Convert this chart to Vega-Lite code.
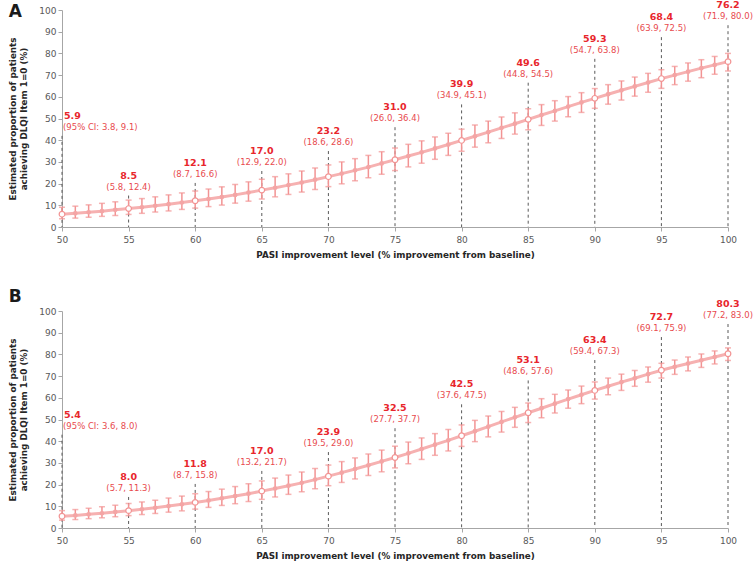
{
  "$schema": "https://vega.github.io/schema/vega-lite/v6.json",
  "padding": {"left": 8, "top": 0, "right": 4, "bottom": 2},
  "config": {
    "font": "DejaVu Sans",
    "view": {"stroke": null},
    "axis": {"labelColor": "#595959", "labelFontSize": 9, "domainColor": "#a6a6a6", "tickColor": "#a6a6a6", "tickSize": 4, "grid": false, "titleColor": "#262626", "titleFontWeight": "bold", "titleFontSize": 8.8, "labelFlush": false},
    "axisX": {"labelPadding": 4, "titlePadding": 6},
    "axisY": {"titlePadding": 10, "titleLineHeight": 11}
  },
  "datasets": {
    "A": [
      {"x":50,"est":5.9,"lo":3.8,"hi":9.1},{"x":51,"est":6.3,"lo":4.1,"hi":9.6},{"x":52,"est":6.8,"lo":4.5,"hi":10.2},{"x":53,"est":7.3,"lo":4.9,"hi":10.9},{"x":54,"est":7.9,"lo":5.3,"hi":11.6},
      {"x":55,"est":8.5,"lo":5.8,"hi":12.4},{"x":56,"est":9.1,"lo":6.3,"hi":13.1},{"x":57,"est":9.8,"lo":6.9,"hi":13.9},{"x":58,"est":10.5,"lo":7.4,"hi":14.8},{"x":59,"est":11.3,"lo":8.1,"hi":15.7},
      {"x":60,"est":12.1,"lo":8.7,"hi":16.6},{"x":61,"est":12.9,"lo":9.4,"hi":17.5},{"x":62,"est":13.8,"lo":10.1,"hi":18.5},{"x":63,"est":14.8,"lo":11.0,"hi":19.6},{"x":64,"est":15.9,"lo":11.9,"hi":20.8},
      {"x":65,"est":17.0,"lo":12.9,"hi":22.0},{"x":66,"est":18.1,"lo":13.9,"hi":23.2},{"x":67,"est":19.3,"lo":15.0,"hi":24.5},{"x":68,"est":20.5,"lo":16.1,"hi":25.8},{"x":69,"est":21.8,"lo":17.3,"hi":27.2},
      {"x":70,"est":23.2,"lo":18.6,"hi":28.6},{"x":71,"est":24.6,"lo":19.9,"hi":30.0},{"x":72,"est":26.1,"lo":21.3,"hi":31.5},{"x":73,"est":27.6,"lo":22.7,"hi":33.0},{"x":74,"est":29.3,"lo":24.3,"hi":34.7},
      {"x":75,"est":31.0,"lo":26.0,"hi":36.4},{"x":76,"est":32.7,"lo":27.7,"hi":38.1},{"x":77,"est":34.4,"lo":29.4,"hi":39.7},{"x":78,"est":36.2,"lo":31.2,"hi":41.5},{"x":79,"est":38.0,"lo":33.0,"hi":43.2},
      {"x":80,"est":39.9,"lo":34.9,"hi":45.1},{"x":81,"est":41.8,"lo":36.8,"hi":47.0},{"x":82,"est":43.7,"lo":38.8,"hi":48.8},{"x":83,"est":45.7,"lo":40.8,"hi":50.7},{"x":84,"est":47.6,"lo":42.8,"hi":52.6},
      {"x":85,"est":49.6,"lo":44.8,"hi":54.5},{"x":86,"est":51.6,"lo":46.8,"hi":56.4},{"x":87,"est":53.5,"lo":48.8,"hi":58.2},{"x":88,"est":55.5,"lo":50.8,"hi":60.1},{"x":89,"est":57.4,"lo":52.8,"hi":61.9},
      {"x":90,"est":59.3,"lo":54.7,"hi":63.8},{"x":91,"est":61.2,"lo":56.6,"hi":65.6},{"x":92,"est":63.0,"lo":58.5,"hi":67.3},{"x":93,"est":64.8,"lo":60.3,"hi":69.1},{"x":94,"est":66.6,"lo":62.1,"hi":70.8},
      {"x":95,"est":68.4,"lo":63.9,"hi":72.5},{"x":96,"est":70.0,"lo":65.6,"hi":74.0},{"x":97,"est":71.6,"lo":67.2,"hi":75.6},{"x":98,"est":73.2,"lo":68.8,"hi":77.1},{"x":99,"est":74.7,"lo":70.4,"hi":78.6},
      {"x":100,"est":76.2,"lo":71.9,"hi":80.0}
    ],
    "B": [
      {"x":50,"est":5.4,"lo":3.6,"hi":8.0},{"x":51,"est":5.8,"lo":3.9,"hi":8.5},{"x":52,"est":6.3,"lo":4.3,"hi":9.1},{"x":53,"est":6.8,"lo":4.7,"hi":9.8},{"x":54,"est":7.4,"lo":5.2,"hi":10.5},
      {"x":55,"est":8.0,"lo":5.7,"hi":11.3},{"x":56,"est":8.6,"lo":6.2,"hi":12.0},{"x":57,"est":9.3,"lo":6.7,"hi":12.8},{"x":58,"est":10.1,"lo":7.3,"hi":13.8},{"x":59,"est":10.9,"lo":7.9,"hi":14.7},
      {"x":60,"est":11.8,"lo":8.7,"hi":15.8},{"x":61,"est":12.7,"lo":9.5,"hi":16.8},{"x":62,"est":13.7,"lo":10.4,"hi":17.9},{"x":63,"est":14.7,"lo":11.2,"hi":19.1},{"x":64,"est":15.8,"lo":12.2,"hi":20.4},
      {"x":65,"est":17.0,"lo":13.2,"hi":21.7},{"x":66,"est":18.2,"lo":14.3,"hi":23.0},{"x":67,"est":19.5,"lo":15.5,"hi":24.4},{"x":68,"est":20.8,"lo":16.7,"hi":25.8},{"x":69,"est":22.3,"lo":18.1,"hi":27.4},
      {"x":70,"est":23.9,"lo":19.5,"hi":29.0},{"x":71,"est":25.5,"lo":21.0,"hi":30.6},{"x":72,"est":27.2,"lo":22.6,"hi":32.3},{"x":73,"est":28.9,"lo":24.2,"hi":34.1},{"x":74,"est":30.7,"lo":25.9,"hi":35.9},
      {"x":75,"est":32.5,"lo":27.7,"hi":37.7},{"x":76,"est":34.4,"lo":29.6,"hi":39.6},{"x":77,"est":36.4,"lo":31.6,"hi":41.5},{"x":78,"est":38.4,"lo":33.5,"hi":43.5},{"x":79,"est":40.4,"lo":35.5,"hi":45.4},
      {"x":80,"est":42.5,"lo":37.6,"hi":47.5},{"x":81,"est":44.6,"lo":39.8,"hi":49.6},{"x":82,"est":46.7,"lo":42.0,"hi":51.6},{"x":83,"est":48.9,"lo":44.2,"hi":53.7},{"x":84,"est":51.0,"lo":46.4,"hi":55.6},
      {"x":85,"est":53.1,"lo":48.6,"hi":57.6},{"x":86,"est":55.2,"lo":50.8,"hi":59.6},{"x":87,"est":57.3,"lo":53.0,"hi":61.6},{"x":88,"est":59.4,"lo":55.2,"hi":63.6},{"x":89,"est":61.4,"lo":57.3,"hi":65.4},
      {"x":90,"est":63.4,"lo":59.4,"hi":67.3},{"x":91,"est":65.3,"lo":61.4,"hi":69.1},{"x":92,"est":67.2,"lo":63.4,"hi":70.9},{"x":93,"est":69.0,"lo":65.3,"hi":72.6},{"x":94,"est":70.9,"lo":67.2,"hi":74.2},
      {"x":95,"est":72.7,"lo":69.1,"hi":75.9},{"x":96,"est":74.3,"lo":70.8,"hi":77.4},{"x":97,"est":75.8,"lo":72.4,"hi":78.8},{"x":98,"est":77.3,"lo":74.0,"hi":80.2},{"x":99,"est":78.8,"lo":75.6,"hi":81.6},
      {"x":100,"est":80.3,"lo":77.2,"hi":83.0}
    ],
    "annA": [
      {"x":50,"top":42,"val":"5.9","ci":"(95% CI: 3.8, 9.1)"},
      {"x":55,"top":14.5,"val":"8.5","ci":"(5.8, 12.4)"},
      {"x":60,"top":20.3,"val":"12.1","ci":"(8.7, 16.6)"},
      {"x":65,"top":25.8,"val":"17.0","ci":"(12.9, 22.0)"},
      {"x":70,"top":35,"val":"23.2","ci":"(18.6, 28.6)"},
      {"x":75,"top":46,"val":"31.0","ci":"(26.0, 36.4)"},
      {"x":80,"top":56.5,"val":"39.9","ci":"(34.9, 45.1)"},
      {"x":85,"top":66.5,"val":"49.6","ci":"(44.8, 54.5)"},
      {"x":90,"top":77.5,"val":"59.3","ci":"(54.7, 63.8)"},
      {"x":95,"top":87.5,"val":"68.4","ci":"(63.9, 72.5)"},
      {"x":100,"top":93,"val":"76.2","ci":"(71.9, 80.0)"}
    ],
    "annB": [
      {"x":50,"top":43,"val":"5.4","ci":"(95% CI: 3.6, 8.0)"},
      {"x":55,"top":14.3,"val":"8.0","ci":"(5.7, 11.3)"},
      {"x":60,"top":20.3,"val":"11.8","ci":"(8.7, 15.8)"},
      {"x":65,"top":26.3,"val":"17.0","ci":"(13.2, 21.7)"},
      {"x":70,"top":35,"val":"23.9","ci":"(19.5, 29.0)"},
      {"x":75,"top":46,"val":"32.5","ci":"(27.7, 37.7)"},
      {"x":80,"top":57,"val":"42.5","ci":"(37.6, 47.5)"},
      {"x":85,"top":68,"val":"53.1","ci":"(48.6, 57.6)"},
      {"x":90,"top":77.4,"val":"63.4","ci":"(59.4, 67.3)"},
      {"x":95,"top":88,"val":"72.7","ci":"(69.1, 75.9)"},
      {"x":100,"top":94,"val":"80.3","ci":"(77.2, 83.0)"}
    ]
  },
  "spacing": 29,
  "vconcat": [
    {
      "width": 666, "height": 217,
      "title": {"text": "A", "anchor": "start", "frame": "bounds", "fontSize": 17, "fontWeight": "bold", "color": "#1a1a1a", "offset": -21},
      "encoding": {
        "x": {"field": "x", "type": "quantitative", "scale": {"domain": [50, 100], "nice": false},
              "axis": {"values": [50,55,60,65,70,75,80,85,90,95,100], "title": "PASI improvement level (% improvement from baseline)"}}
      },
      "layer": [
        {"data": {"name": "annA"}, "mark": {"type": "rule", "color": "#595959", "strokeDash": [3, 3], "strokeWidth": 1},
         "encoding": {"y": {"field": "top", "type": "quantitative", "scale": {"domain": [0, 100], "nice": false},
                            "axis": {"values": [0,10,20,30,40,50,60,70,80,90,100], "title": ["Estimated proportion of patients", "achieving DLQI Item 1=0 (%)"]}},
                      "y2": {"datum": 0}}},
        {"data": {"name": "A"}, "mark": {"type": "rule", "color": "#F29393", "strokeWidth": 1.5},
         "encoding": {"y": {"field": "lo", "type": "quantitative", "axis": {"values": [0,10,20,30,40,50,60,70,80,90,100], "title": ["Estimated proportion of patients", "achieving DLQI Item 1=0 (%)"]}}, "y2": {"field": "hi"}}},
        {"data": {"name": "A"}, "mark": {"type": "tick", "orient": "horizontal", "color": "#F29393", "size": 6, "thickness": 1.5},
         "encoding": {"y": {"field": "lo", "type": "quantitative", "axis": {"values": [0,10,20,30,40,50,60,70,80,90,100], "title": ["Estimated proportion of patients", "achieving DLQI Item 1=0 (%)"]}}}},
        {"data": {"name": "A"}, "mark": {"type": "tick", "orient": "horizontal", "color": "#F29393", "size": 6, "thickness": 1.5},
         "encoding": {"y": {"field": "hi", "type": "quantitative", "axis": {"values": [0,10,20,30,40,50,60,70,80,90,100], "title": ["Estimated proportion of patients", "achieving DLQI Item 1=0 (%)"]}}}},
        {"data": {"name": "A"}, "mark": {"type": "line", "color": "#F6B1B1", "strokeWidth": 3},
         "encoding": {"y": {"field": "est", "type": "quantitative", "axis": {"values": [0,10,20,30,40,50,60,70,80,90,100], "title": ["Estimated proportion of patients", "achieving DLQI Item 1=0 (%)"]}}}},
        {"data": {"name": "A"}, "transform": [{"filter": "datum.x % 5 != 0"}], "mark": {"type": "point", "filled": true, "color": "#F4A5A5", "size": 22, "opacity": 1},
         "encoding": {"y": {"field": "est", "type": "quantitative", "axis": {"values": [0,10,20,30,40,50,60,70,80,90,100], "title": ["Estimated proportion of patients", "achieving DLQI Item 1=0 (%)"]}}}},
        {"data": {"name": "A"}, "transform": [{"filter": "datum.x % 5 == 0"}], "mark": {"type": "point", "filled": true, "fill": "white", "stroke": "#F29393", "strokeWidth": 1.2, "size": 32, "opacity": 1},
         "encoding": {"y": {"field": "est", "type": "quantitative", "axis": {"values": [0,10,20,30,40,50,60,70,80,90,100], "title": ["Estimated proportion of patients", "achieving DLQI Item 1=0 (%)"]}}}},
        {"data": {"name": "annA"}, "transform": [{"filter": "datum.x != 50"}], "mark": {"type": "text", "align": "center", "baseline": "middle", "dy": -20, "fontWeight": "bold", "fontSize": 9.5, "color": "#E8262C"},
         "encoding": {"y": {"field": "top", "type": "quantitative", "axis": {"values": [0,10,20,30,40,50,60,70,80,90,100], "title": ["Estimated proportion of patients", "achieving DLQI Item 1=0 (%)"]}}, "text": {"field": "val"}}},
        {"data": {"name": "annA"}, "transform": [{"filter": "datum.x != 50"}], "mark": {"type": "text", "align": "center", "baseline": "middle", "dy": -9, "fontSize": 8.5, "color": "#E84A4E"},
         "encoding": {"y": {"field": "top", "type": "quantitative", "axis": {"values": [0,10,20,30,40,50,60,70,80,90,100], "title": ["Estimated proportion of patients", "achieving DLQI Item 1=0 (%)"]}}, "text": {"field": "ci"}}},
        {"data": {"name": "annA"}, "transform": [{"filter": "datum.x == 50"}], "mark": {"type": "text", "align": "left", "dx": 2, "baseline": "middle", "dy": -20, "fontWeight": "bold", "fontSize": 9.5, "color": "#E8262C"},
         "encoding": {"y": {"field": "top", "type": "quantitative", "axis": {"values": [0,10,20,30,40,50,60,70,80,90,100], "title": ["Estimated proportion of patients", "achieving DLQI Item 1=0 (%)"]}}, "text": {"field": "val"}}},
        {"data": {"name": "annA"}, "transform": [{"filter": "datum.x == 50"}], "mark": {"type": "text", "align": "left", "dx": 1, "baseline": "middle", "dy": -9, "fontSize": 8.5, "color": "#E84A4E"},
         "encoding": {"y": {"field": "top", "type": "quantitative", "axis": {"values": [0,10,20,30,40,50,60,70,80,90,100], "title": ["Estimated proportion of patients", "achieving DLQI Item 1=0 (%)"]}}, "text": {"field": "ci"}}}
      ]
    },
    {
      "width": 666, "height": 217,
      "title": {"text": "B", "anchor": "start", "frame": "bounds", "fontSize": 17, "fontWeight": "bold", "color": "#1a1a1a", "offset": -7},
      "encoding": {
        "x": {"field": "x", "type": "quantitative", "scale": {"domain": [50, 100], "nice": false},
              "axis": {"values": [50,55,60,65,70,75,80,85,90,95,100], "title": "PASI improvement level (% improvement from baseline)"}}
      },
      "layer": [
        {"data": {"name": "annB"}, "mark": {"type": "rule", "color": "#595959", "strokeDash": [3, 3], "strokeWidth": 1},
         "encoding": {"y": {"field": "top", "type": "quantitative", "scale": {"domain": [0, 100], "nice": false},
                            "axis": {"values": [0,10,20,30,40,50,60,70,80,90,100], "title": ["Estimated proportion of patients", "achieving DLQI Item 1=0 (%)"]}},
                      "y2": {"datum": 0}}},
        {"data": {"name": "B"}, "mark": {"type": "rule", "color": "#F29393", "strokeWidth": 1.5},
         "encoding": {"y": {"field": "lo", "type": "quantitative", "axis": {"values": [0,10,20,30,40,50,60,70,80,90,100], "title": ["Estimated proportion of patients", "achieving DLQI Item 1=0 (%)"]}}, "y2": {"field": "hi"}}},
        {"data": {"name": "B"}, "mark": {"type": "tick", "orient": "horizontal", "color": "#F29393", "size": 6, "thickness": 1.5},
         "encoding": {"y": {"field": "lo", "type": "quantitative", "axis": {"values": [0,10,20,30,40,50,60,70,80,90,100], "title": ["Estimated proportion of patients", "achieving DLQI Item 1=0 (%)"]}}}},
        {"data": {"name": "B"}, "mark": {"type": "tick", "orient": "horizontal", "color": "#F29393", "size": 6, "thickness": 1.5},
         "encoding": {"y": {"field": "hi", "type": "quantitative", "axis": {"values": [0,10,20,30,40,50,60,70,80,90,100], "title": ["Estimated proportion of patients", "achieving DLQI Item 1=0 (%)"]}}}},
        {"data": {"name": "B"}, "mark": {"type": "line", "color": "#F6B1B1", "strokeWidth": 3},
         "encoding": {"y": {"field": "est", "type": "quantitative", "axis": {"values": [0,10,20,30,40,50,60,70,80,90,100], "title": ["Estimated proportion of patients", "achieving DLQI Item 1=0 (%)"]}}}},
        {"data": {"name": "B"}, "transform": [{"filter": "datum.x % 5 != 0"}], "mark": {"type": "point", "filled": true, "color": "#F4A5A5", "size": 22, "opacity": 1},
         "encoding": {"y": {"field": "est", "type": "quantitative", "axis": {"values": [0,10,20,30,40,50,60,70,80,90,100], "title": ["Estimated proportion of patients", "achieving DLQI Item 1=0 (%)"]}}}},
        {"data": {"name": "B"}, "transform": [{"filter": "datum.x % 5 == 0"}], "mark": {"type": "point", "filled": true, "fill": "white", "stroke": "#F29393", "strokeWidth": 1.2, "size": 32, "opacity": 1},
         "encoding": {"y": {"field": "est", "type": "quantitative", "axis": {"values": [0,10,20,30,40,50,60,70,80,90,100], "title": ["Estimated proportion of patients", "achieving DLQI Item 1=0 (%)"]}}}},
        {"data": {"name": "annB"}, "transform": [{"filter": "datum.x != 50"}], "mark": {"type": "text", "align": "center", "baseline": "middle", "dy": -20, "fontWeight": "bold", "fontSize": 9.5, "color": "#E8262C"},
         "encoding": {"y": {"field": "top", "type": "quantitative", "axis": {"values": [0,10,20,30,40,50,60,70,80,90,100], "title": ["Estimated proportion of patients", "achieving DLQI Item 1=0 (%)"]}}, "text": {"field": "val"}}},
        {"data": {"name": "annB"}, "transform": [{"filter": "datum.x != 50"}], "mark": {"type": "text", "align": "center", "baseline": "middle", "dy": -9, "fontSize": 8.5, "color": "#E84A4E"},
         "encoding": {"y": {"field": "top", "type": "quantitative", "axis": {"values": [0,10,20,30,40,50,60,70,80,90,100], "title": ["Estimated proportion of patients", "achieving DLQI Item 1=0 (%)"]}}, "text": {"field": "ci"}}},
        {"data": {"name": "annB"}, "transform": [{"filter": "datum.x == 50"}], "mark": {"type": "text", "align": "left", "dx": 2, "baseline": "middle", "dy": -20, "fontWeight": "bold", "fontSize": 9.5, "color": "#E8262C"},
         "encoding": {"y": {"field": "top", "type": "quantitative", "axis": {"values": [0,10,20,30,40,50,60,70,80,90,100], "title": ["Estimated proportion of patients", "achieving DLQI Item 1=0 (%)"]}}, "text": {"field": "val"}}},
        {"data": {"name": "annB"}, "transform": [{"filter": "datum.x == 50"}], "mark": {"type": "text", "align": "left", "dx": 1, "baseline": "middle", "dy": -9, "fontSize": 8.5, "color": "#E84A4E"},
         "encoding": {"y": {"field": "top", "type": "quantitative", "axis": {"values": [0,10,20,30,40,50,60,70,80,90,100], "title": ["Estimated proportion of patients", "achieving DLQI Item 1=0 (%)"]}}, "text": {"field": "ci"}}}
      ]
    }
  ]
}
